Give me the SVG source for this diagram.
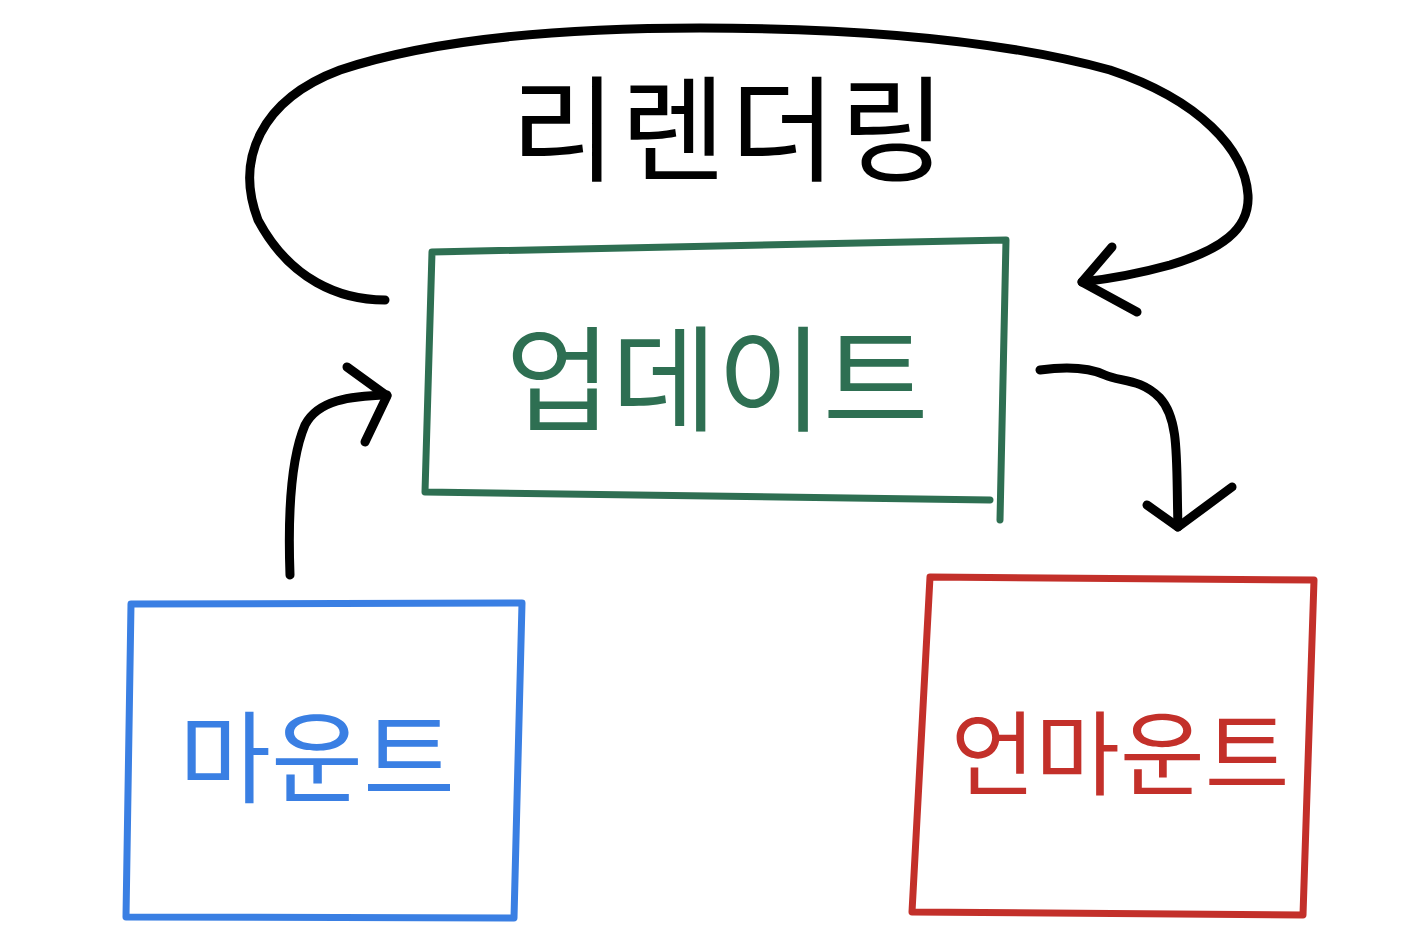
<svg xmlns="http://www.w3.org/2000/svg" width="1426" height="946" viewBox="0 0 1426 946">
<style>
.ln{fill:none;stroke-linecap:round;stroke-linejoin:round}
.k{stroke:#000;stroke-width:9}
.box{fill:none;stroke-width:7;stroke-linecap:round;stroke-linejoin:round}
.t{font-family:"Noto Sans CJK KR","Noto Sans",sans-serif;text-anchor:middle;font-weight:400}
</style>
<rect width="1426" height="946" fill="#fff"/>
<g id="connectors">
<path class="ln k" d="M385,300 C340,300 290,280 258,220 C235,160 260,100 340,70 C430,40 560,28 700,28 C860,28 1000,40 1110,70 C1200,100 1245,150 1248,195 C1250,230 1220,250 1170,265 C1130,276 1100,280 1082,282"/>
<path class="ln k" d="M1112,247 L1082,282 L1137,312"/>
<path class="ln k" d="M290,575 C288,520 290,460 305,425 C318,400 350,396 387,395"/>
<path class="ln k" d="M347,367 L387,396 L365,442"/>
<path class="ln k" d="M1040,370 C1070,366 1090,368 1105,375 C1120,382 1140,378 1160,398 C1180,420 1176,460 1178,527"/>
<path class="ln k" d="M1147,505 L1178,527 L1232,487"/>
</g>
<g id="rerender">
<text class="t" x="730" y="172" font-size="115" letter-spacing="4" fill="#000">리렌더링</text>
</g>
<g id="update">
<path class="box" stroke="#2e6f52" d="M432,252 L1006,240 L1000,520 M425,492 L990,500 M432,252 L425,492"/>
<text class="t" x="717" y="422" font-size="115" fill="#2e6f52">업데이트</text>
</g>
<g id="mount">
<path class="box" stroke="#3a7fe3" d="M131,604 L522,603 L514,918 L126,917 Z"/>
<text class="t" x="317" y="795" font-size="100" fill="#3a7fe3">마운트</text>
</g>
<g id="unmount">
<path class="box" stroke="#c3302a" d="M930,577 L1314,580 L1303,915 L912,912 Z"/>
<text class="t" x="1120" y="788" font-size="92" fill="#c3302a">언마운트</text>
</g>
</svg>
